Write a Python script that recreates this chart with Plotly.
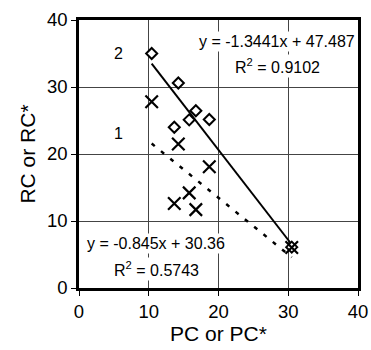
import plotly.graph_objects as go

# Data
pc = [10.42, 14.24, 16.75, 15.8, 18.68, 13.66, 30.5]
rc2 = [35.0, 30.6, 26.45, 25.1, 25.15, 24.0, 6.1]      # series "2" (diamonds)
pc1 = [10.42, 14.24, 18.68, 15.8, 13.66, 16.75, 30.5]
rc1 = [27.8, 21.5, 18.1, 14.2, 12.6, 11.7, 6.05]       # series "1" (crosses)

fit2 = (-1.3441, 47.487, 0.9102)
fit1 = (-0.845, 30.36, 0.5743)

x_ticks = [0, 10, 20, 30, 40]
y_ticks = [0, 10, 20, 30, 40]

FONT = "Liberation Sans, Arial, sans-serif"

fig = go.Figure()

xmin, xmax = min(pc), max(pc)
fig.add_trace(go.Scatter(
    x=[xmin, xmax], y=[fit2[0] * xmin + fit2[1], fit2[0] * xmax + fit2[1]],
    mode="lines", line=dict(color="black", width=2), showlegend=False))
xmin1, xmax1 = min(pc1), max(pc1)
fig.add_trace(go.Scatter(
    x=[xmin1, xmax1], y=[fit1[0] * xmin1 + fit1[1], fit1[0] * xmax1 + fit1[1]],
    mode="lines", line=dict(color="black", width=2.5, dash="4px,8px"), showlegend=False))

fig.add_trace(go.Scatter(
    x=pc, y=rc2, mode="markers",
    marker=dict(symbol="diamond", size=8.5, color="white",
                line=dict(color="black", width=2)),
    showlegend=False))
fig.add_trace(go.Scatter(
    x=pc1, y=rc1, mode="markers",
    marker=dict(symbol="x-thin", size=12.5,
                line=dict(color="black", width=2.2)),
    showlegend=False))

def ann(x, y, text, bg=None):
    d = dict(x=x, y=y, xref="x", yref="y", text=text, showarrow=False,
             font=dict(family=FONT, size=16, color="black"),
             xanchor="center", yanchor="middle")
    if bg:
        d["bgcolor"] = bg
    fig.add_annotation(**d)

ann(5.6, 35.0, "2")
ann(5.6, 23.1, "1")
ann(28.4, 36.8, "y = -1.3441x + 47.487", bg="white")
ann(28.4, 33.1, "R<sup>2</sup> = 0.9102", bg="white")
ann(11.05, 6.7, "y = -0.845x + 30.36", bg="white")
ann(11.1, 2.9, "R<sup>2</sup> = 0.5743", bg="white")

axis_common = dict(
    showgrid=True, gridcolor="#444", gridwidth=1,
    showline=True, linecolor="black", linewidth=2.5, mirror=True,
    ticks="outside", ticklen=5, tickcolor="black", tickwidth=1,
    zeroline=False,
    tickfont=dict(family=FONT, size=18.5, color="black"),
)

fig.update_xaxes(range=[0, 40], tickvals=x_ticks, ticktext=[str(t) for t in x_ticks],
                 title=dict(text="PC or PC*", font=dict(family=FONT, size=21, color="black"),
                            standoff=2),
                 **axis_common)
fig.update_yaxes(range=[0, 40], tickvals=y_ticks, ticktext=[str(t) for t in y_ticks],
                 title=dict(text="RC or RC*", font=dict(family=FONT, size=21, color="black"),
                            standoff=6),
                 **axis_common)

fig.update_layout(
    width=371, height=350,
    margin=dict(l=79, r=13, t=20, b=62, autoexpand=False),
    paper_bgcolor="white", plot_bgcolor="white",
    showlegend=False,
)

fig.write_html("out.html")
